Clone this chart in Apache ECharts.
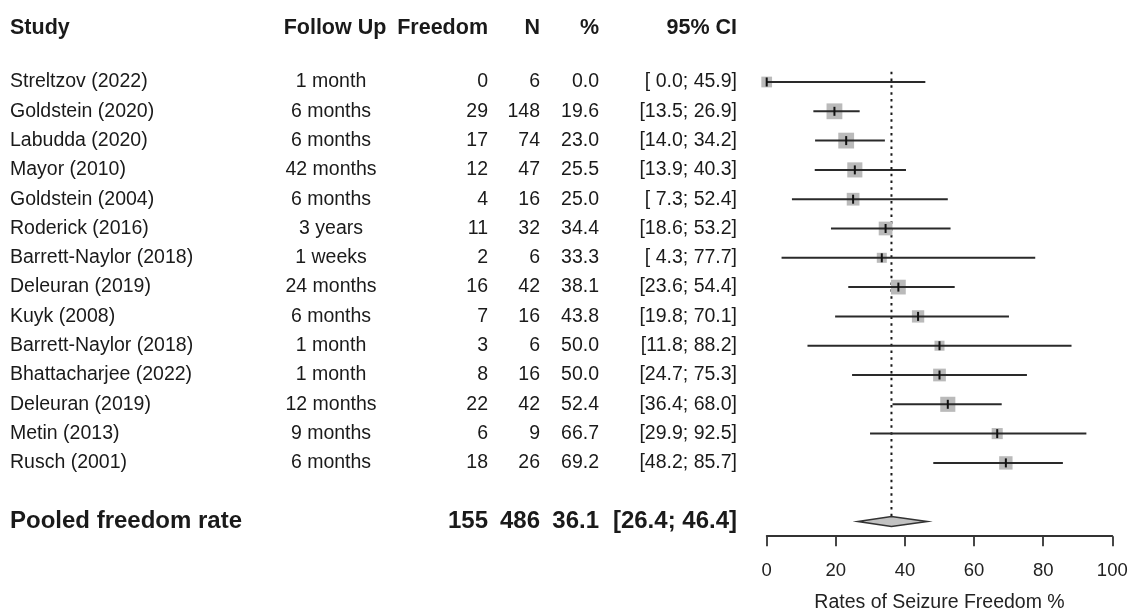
<!DOCTYPE html>
<html><head><meta charset="utf-8">
<script src="https://cdn.jsdelivr.net/npm/echarts@6/dist/echarts.min.js"></script>
<style>html,body{margin:0;padding:0;background:#fff}#c{width:1131px;height:613px}</style>
</head><body><div id="c"></div>
<script>
// ---- data ----
const studies = ['Streltzov (2022)','Goldstein (2020)','Labudda (2020)','Mayor (2010)','Goldstein (2004)','Roderick (2016)','Barrett-Naylor (2018)','Deleuran (2019)','Kuyk (2008)','Barrett-Naylor (2018)','Bhattacharjee (2022)','Deleuran (2019)','Metin (2013)','Rusch (2001)'];
const followUp = ['1 month','6 months','6 months','42 months','6 months','3 years','1 weeks','24 months','6 months','1 month','1 month','12 months','9 months','6 months'];
const events = [0,29,17,12,4,11,2,16,7,3,8,22,6,18];
const totals = [6,148,74,47,16,32,6,42,16,6,16,42,9,26];
const rates = [0.0,19.6,23.0,25.5,25.0,34.4,33.3,38.1,43.8,50.0,50.0,52.4,66.7,69.2];
const ciLow = [0.0,13.5,14.0,13.9,7.3,18.6,4.3,23.6,19.8,11.8,24.7,36.4,29.9,48.2];
const ciHigh = [45.9,26.9,34.2,40.3,52.4,53.2,77.7,54.4,70.1,88.2,75.3,68.0,92.5,85.7];
const weights = [4.7,10.2,10.2,9.3,6.6,7.7,4.1,8.9,6.2,4.1,6.6,9.3,5.0,7.3]; // estimated relative weights (%)
const pooledLabel = ['Pooled freedom rate'];
const pooledEvents = [155];
const pooledTotal = [486];
const pooledRate = [36.1];
const pooledLow = [26.4];
const pooledHigh = [46.4];
const headers = ['Study','Follow Up','Freedom','N','%','95% CI'];
const xTicks = [0,20,40,60,80,100];
const xTitle = 'Rates of Seizure Freedom %';

// ---- layout / style ----
const FONT = '"Liberation Sans", Arial, Helvetica, sans-serif';
const ROW_MIN = -2.5, ROW_MAX = 15.5;
const GRID_TOP = 8.75, GRID_BOTTOM = 76.85;
const HEADER_ROW = -1.85, POOLED_ROW = 15;
const TEXT = '#1a1a1a';
const colX = [10, 331, 488, 540, 599, 737];
const headX = [10, 335, 488, 540, 599, 737];
const colAlign = ['left','center','right','right','right','right'];
const bodyFont = '19.5px ' + FONT;
const headFont = 'bold 21.5px ' + FONT;
const pooledFont = 'bold 24px ' + FONT;

function fmt1(v){ return v.toFixed(1); }
function pad(v){ const s = fmt1(v); return v < 10 ? ' ' + s : s; }
function ciText(lo, hi){ return '[' + pad(lo) + '; ' + pad(hi) + ']'; }

const cells = [];
headers.forEach((h, c) => cells.push({x: headX[c], row: HEADER_ROW, text: h, align: colAlign[c], font: headFont}));
studies.forEach((s, i) => {
  const vals = [s, followUp[i], String(events[i]), String(totals[i]), fmt1(rates[i]), ciText(ciLow[i], ciHigh[i])];
  vals.forEach((t, c) => cells.push({x: colX[c], row: i, text: t, align: colAlign[c], font: bodyFont}));
});
const pVals = [pooledLabel[0], '', String(pooledEvents[0]), String(pooledTotal[0]), fmt1(pooledRate[0]), ciText(pooledLow[0], pooledHigh[0])];
pVals.forEach((t, c) => { if (t) cells.push({x: colX[c], row: POOLED_ROW, text: t, align: colAlign[c], font: pooledFont}); });

const chart = echarts.init(document.getElementById('c'), null, {renderer: 'canvas'});
const option = {
  backgroundColor: '#ffffff',
  animation: false,
  grid: [
    {left: 766.7, right: 18.7, top: GRID_TOP, bottom: GRID_BOTTOM, containLabel: false, outerBoundsMode: 'none'},
    {left: 0, right: 0, top: GRID_TOP, bottom: GRID_BOTTOM, containLabel: false, outerBoundsMode: 'none'}
  ],
  xAxis: [
    {gridIndex: 0, type: 'value', position: 'bottom', min: xTicks[0], max: xTicks[xTicks.length - 1], interval: xTicks[1] - xTicks[0],
     axisLine: {show: true, onZero: false, lineStyle: {color: '#333', width: 1.8}},
     axisTick: {show: true, length: 10, lineStyle: {color: '#333', width: 1.8}},
     axisLabel: {fontSize: 18.5, color: '#222', margin: 25, fontFamily: FONT},
     splitLine: {show: false},
     name: xTitle, nameLocation: 'middle', nameGap: 56,
     nameTextStyle: {fontSize: 19.5, color: '#222', fontFamily: FONT}},
    {gridIndex: 1, type: 'value', min: 0, max: 1131, show: false}
  ],
  yAxis: [
    {gridIndex: 0, type: 'value', inverse: true, min: ROW_MIN, max: ROW_MAX, show: false},
    {gridIndex: 1, type: 'value', inverse: true, min: ROW_MIN, max: ROW_MAX, show: false}
  ],
  series: [
    {
      type: 'custom', name: 'pooled', xAxisIndex: 0, yAxisIndex: 0, clip: false,
      data: [[pooledRate[0], pooledLow[0], pooledHigh[0], POOLED_ROW]],
      encode: {x: [0, 1, 2], y: 3},
      renderItem: function (params, api) {
        const est = api.value(0), lo = api.value(1), hi = api.value(2), row = api.value(3);
        const pE = api.coord([est, row]), pL = api.coord([lo, row]), pH = api.coord([hi, row]);
        const top = api.coord([est, -0.35]);
        const h = 5;
        return {type: 'group', children: [
          {type: 'line', shape: {x1: pE[0], y1: top[1], x2: pE[0], y2: pE[1] - h},
           style: {stroke: '#1a1a1a', lineWidth: 2, lineDash: [2.5, 4.3]}},
          {type: 'polygon', shape: {points: [[pL[0], pL[1]], [pE[0], pE[1] - h], [pH[0], pH[1]], [pE[0], pE[1] + h]]},
           style: {fill: '#c2c2c2', stroke: '#333', lineWidth: 1.6}}
        ]};
      }
    },
    {
      type: 'custom', name: 'studies', xAxisIndex: 0, yAxisIndex: 0, clip: false,
      data: studies.map((s, i) => [rates[i], ciLow[i], ciHigh[i], i, weights[i]]),
      encode: {x: [0, 1, 2], y: 3},
      renderItem: function (params, api) {
        const est = api.value(0), lo = api.value(1), hi = api.value(2), row = api.value(3), w = api.value(4);
        const pE = api.coord([est, row]), pL = api.coord([lo, row]), pH = api.coord([hi, row]);
        const s = 4.95 * Math.sqrt(w);
        return {type: 'group', children: [
          {type: 'rect', shape: {x: pE[0] - s / 2, y: pE[1] - s / 2, width: s, height: s}, style: {fill: '#bababa'}},
          {type: 'line', shape: {x1: pL[0], y1: pL[1], x2: pH[0], y2: pH[1]}, style: {stroke: '#2a2a2a', lineWidth: 2}},
          {type: 'line', shape: {x1: pE[0], y1: pE[1] - 4.5, x2: pE[0], y2: pE[1] + 4.5}, style: {stroke: '#111', lineWidth: 2}}
        ]};
      }
    },
    {
      type: 'custom', name: 'table', xAxisIndex: 1, yAxisIndex: 1, clip: false, silent: true,
      data: cells.map(c => [c.x, c.row]),
      encode: {x: 0, y: 1},
      renderItem: function (params, api) {
        const cell = cells[params.dataIndex];
        const p = api.coord([api.value(0), api.value(1)]);
        return {type: 'text', x: p[0], y: p[1],
          style: {text: cell.text, align: cell.align, verticalAlign: 'middle', textAlign: cell.align, textVerticalAlign: 'middle', font: cell.font, fill: TEXT}};
      }
    }
  ]
};
chart.setOption(option);
</script></body></html>
